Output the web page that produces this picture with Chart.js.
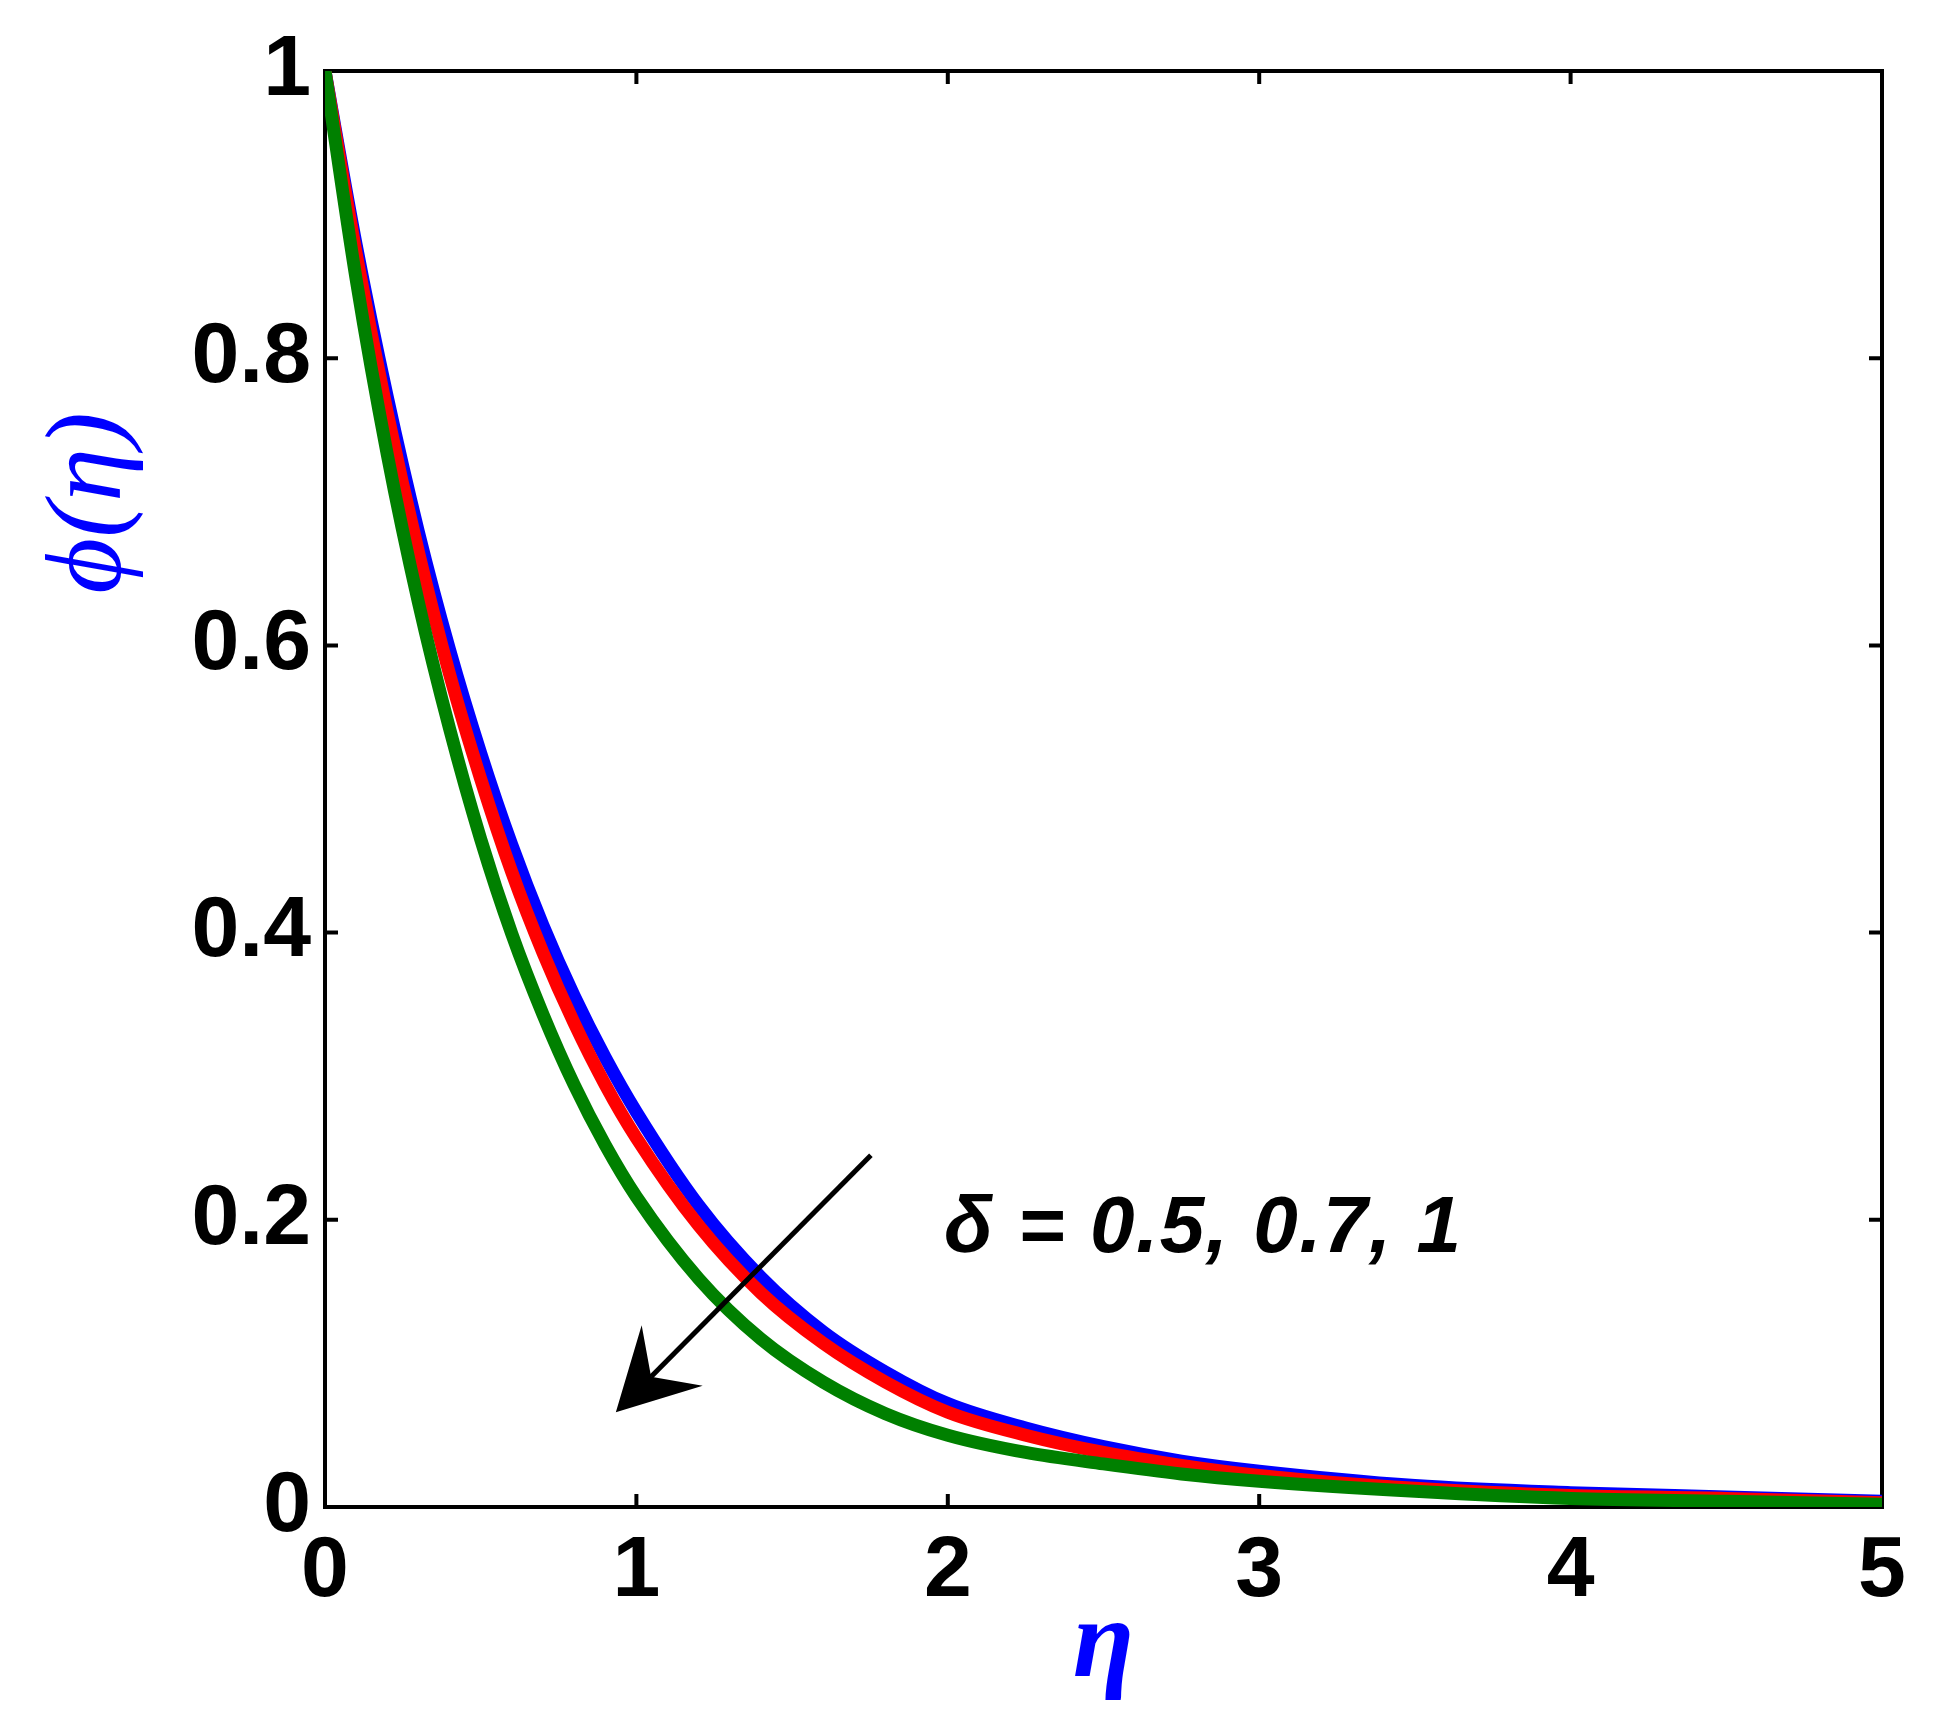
<!DOCTYPE html>
<html>
<head>
<meta charset="utf-8">
<script src="https://cdn.jsdelivr.net/npm/chart.js@4.4.1/dist/chart.umd.min.js"></script>
<style>
  html, body { margin: 0; padding: 0; background: #fff; }
  canvas { display: block; }
</style>
</head>
<body>
<canvas id="chart" width="1936" height="1732"></canvas>
<script>
'use strict';

// eta values
const etaValues = [0, 0.1, 0.2, 0.3, 0.4, 0.5, 0.6, 0.7, 0.8, 0.9, 1.0, 1.2, 1.4, 1.6, 1.8, 2.0, 2.25, 2.5, 2.75, 3.0, 3.5, 4.0, 4.5, 5.0];

// phi(eta) for delta = 0.5, 0.7, 1
const phiDelta05 = [1, 0.879, 0.773, 0.679, 0.597, 0.525, 0.461, 0.405, 0.356, 0.313, 0.275, 0.210, 0.160, 0.122, 0.094, 0.072, 0.055, 0.042, 0.032, 0.025, 0.015, 0.010, 0.007, 0.004];
const phiDelta07 = [1, 0.873, 0.762, 0.665, 0.580, 0.507, 0.442, 0.386, 0.337, 0.294, 0.257, 0.196, 0.149, 0.114, 0.087, 0.066, 0.050, 0.038, 0.029, 0.022, 0.013, 0.008, 0.006, 0.003];
const phiDelta1 = [1, 0.855, 0.733, 0.630, 0.542, 0.465, 0.399, 0.343, 0.294, 0.252, 0.216, 0.159, 0.117, 0.087, 0.065, 0.050, 0.038, 0.030, 0.023, 0.018, 0.011, 0.006, 0.004, 0.002];

const xTicks = [0, 1, 2, 3, 4, 5];
const yTicks = [0, 0.2, 0.4, 0.6, 0.8, 1];
const annotationText = 'δ = 0.5, 0.7, 1';

const sansFont = '"Liberation Sans", Arial, sans-serif';
const serifFont = '"Liberation Serif", "Times New Roman", "DejaVu Serif", serif';

function toPoints(ys) {
  return etaValues.map((x, i) => ({ x: x, y: ys[i] }));
}

function curve(label, ys, color, order) {
  return {
    label: label,
    data: toPoints(ys),
    borderColor: color,
    backgroundColor: color,
    borderWidth: 13,
    pointRadius: 0,
    fill: false,
    cubicInterpolationMode: 'monotone',
    order: order
  };
}

// box, inward ticks, axis titles, arrow and the delta note
const decorations = {
  id: 'decorations',
  beforeDatasetsDraw(chart) {
    const ctx = chart.ctx;
    const a = chart.chartArea;
    const xs = chart.scales.x, ys = chart.scales.y;
    ctx.save();
    ctx.strokeStyle = '#000';
    ctx.lineWidth = 4;
    ctx.strokeRect(a.left, a.top, a.right - a.left, a.bottom - a.top);
    ctx.beginPath();
    xTicks.forEach(v => {
      const px = xs.getPixelForValue(v);
      ctx.moveTo(px, a.bottom); ctx.lineTo(px, a.bottom - 13);
      ctx.moveTo(px, a.top); ctx.lineTo(px, a.top + 13);
    });
    yTicks.forEach(v => {
      const py = ys.getPixelForValue(v);
      ctx.moveTo(a.left, py); ctx.lineTo(a.left + 13, py);
      ctx.moveTo(a.right, py); ctx.lineTo(a.right - 13, py);
    });
    ctx.stroke();
    ctx.restore();
  },
  afterDraw(chart) {
    const ctx = chart.ctx;
    const a = chart.chartArea;
    const xs = chart.scales.x, ys = chart.scales.y;
    ctx.save();

    // x title
    ctx.fillStyle = '#0000ff';
    ctx.font = 'italic bold 112px ' + serifFont;
    ctx.textAlign = 'center';
    ctx.textBaseline = 'alphabetic';
    ctx.fillText('η', (a.left + a.right) / 2, 1676);

    // y title
    ctx.save();
    ctx.translate(120, 503);
    ctx.rotate(-Math.PI / 2);
    ctx.font = 'italic 108px ' + serifFont;
    ctx.fillText('ϕ(η)', 0, 0);
    ctx.restore();

    // note
    ctx.fillStyle = '#000';
    ctx.font = 'italic bold 80px ' + sansFont;
    ctx.textAlign = 'left';
    ctx.letterSpacing = '1.5px';
    ctx.fillText(annotationText, xs.getPixelForValue(1.988), ys.getPixelForValue(0.1776));
    ctx.letterSpacing = '0px';

    // arrow
    const x0 = xs.getPixelForValue(1.753), y0 = ys.getPixelForValue(0.245);
    const x1 = xs.getPixelForValue(0.934), y1 = ys.getPixelForValue(0.066);
    const len = Math.hypot(x1 - x0, y1 - y0);
    const ux = (x1 - x0) / len, uy = (y1 - y0) / len;
    const nx = -uy, ny = ux;
    const headLen = 80, halfW = 43, notch = 50;
    ctx.strokeStyle = '#000';
    ctx.lineWidth = 5;
    ctx.beginPath();
    ctx.moveTo(x0, y0);
    ctx.lineTo(x1 - ux * notch, y1 - uy * notch);
    ctx.stroke();
    ctx.beginPath();
    ctx.moveTo(x1, y1);
    ctx.lineTo(x1 - ux * headLen + nx * halfW, y1 - uy * headLen + ny * halfW);
    ctx.lineTo(x1 - ux * notch, y1 - uy * notch);
    ctx.lineTo(x1 - ux * headLen - nx * halfW, y1 - uy * headLen - ny * halfW);
    ctx.closePath();
    ctx.fillStyle = '#000';
    ctx.fill();

    ctx.restore();
  }
};

new Chart(document.getElementById('chart'), {
  type: 'line',
  data: {
    datasets: [
      curve('δ = 0.5', phiDelta05, '#0000ff', 3),
      curve('δ = 0.7', phiDelta07, '#ff0000', 2),
      curve('δ = 1', phiDelta1, '#008000', 1)
    ]
  },
  options: {
    responsive: false,
    animation: false,
    layout: { padding: { top: 71, right: 54, left: 0, bottom: 0 } },
    plugins: {
      legend: { display: false },
      tooltip: { enabled: false }
    },
    scales: {
      x: {
        type: 'linear',
        min: 0,
        max: 5,
        afterFit: s => { s.height = 225; },
        afterBuildTicks: s => { s.ticks = xTicks.map(v => ({ value: v })); },
        grid: { display: false, drawTicks: false },
        border: { display: false },
        ticks: {
          padding: 14,
          color: '#000',
          maxRotation: 0,
          font: { family: sansFont, size: 86, weight: 'bold', lineHeight: 1.2 },
          callback: v => String(v)
        }
      },
      y: {
        type: 'linear',
        min: 0,
        max: 1,
        afterFit: s => { s.width = 325; },
        afterBuildTicks: s => { s.ticks = yTicks.map(v => ({ value: v })); },
        grid: { display: false, drawTicks: false },
        border: { display: false },
        ticks: {
          padding: 14,
          color: '#000',
          font: { family: sansFont, size: 86, weight: 'bold' },
          callback: v => String(v)
        }
      }
    }
  },
  plugins: [decorations]
});
</script>
</body>
</html>
